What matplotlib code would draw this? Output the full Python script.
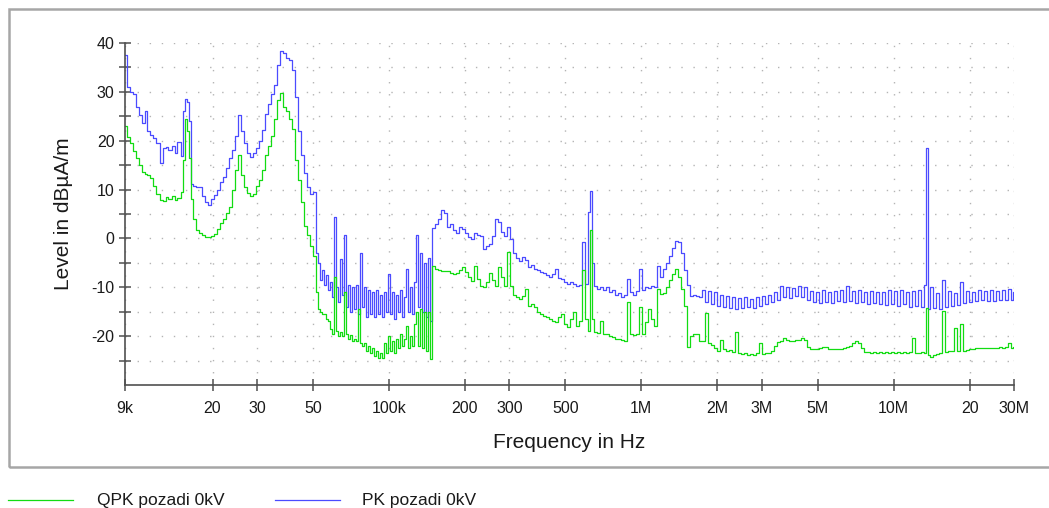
import numpy as np
import matplotlib
matplotlib.use("Agg")
import matplotlib.pyplot as plt
from matplotlib.lines import Line2D
from matplotlib.patches import Rectangle
from matplotlib.ticker import FixedLocator, NullLocator

plt.rcParams['font.family'] = ['Liberation Sans', 'DejaVu Sans']
plt.rcParams['axes.unicode_minus'] = False

# sweep frequencies in kHz (shared by both detectors)
freq_khz = [
    # 9 kHz - 52 kHz
    9.0, 9.25, 9.51, 9.77, 10.04, 10.32, 10.61, 10.90, 11.20, 11.51,
    11.83, 12.16, 12.50, 12.85, 13.20, 13.57, 13.95, 14.33, 14.73, 15.14,
    15.42, 15.70, 16.00, 16.29, 16.59, 16.90, 17.37, 17.85, 18.34, 18.85,
    19.37, 19.91, 20.46, 21.03, 21.61, 22.21, 22.83, 23.46, 24.11, 24.79,
    25.47, 26.18, 26.90, 27.65, 28.42, 29.21, 30.02, 30.85, 31.71, 32.59,
    33.50, 34.43, 35.38, 36.37, 37.38, 38.41, 39.48, 40.57, 41.70, 42.86,
    44.05, 45.25, 46.51, 47.80, 49.13, 50.49, 51.89,
    # 52 kHz - 150 kHz
    52.85, 53.82, 54.81, 55.82, 56.85, 57.90, 58.96, 60.05, 61.15, 62.28,
    63.43, 64.59, 65.78, 66.99, 68.22, 69.48, 70.76, 72.06, 73.39, 74.74,
    76.12, 77.52, 78.95, 80.40, 81.88, 83.39, 84.93, 86.49, 88.09, 89.71,
    91.36, 93.05, 94.76, 96.51, 98.29, 100.1, 101.9, 103.8, 105.7, 107.7,
    109.7, 111.7, 113.8, 115.8, 118.0, 120.2, 122.4, 124.6, 126.9, 129.3,
    131.6, 134.1, 136.5, 139.0, 141.6, 144.2, 146.9,
    # 150 kHz - 1.7 MHz
    150.0, 154.2, 158.4, 162.8, 167.4, 172.0, 176.8, 181.7, 186.7, 191.9,
    197.2, 202.7, 208.3, 214.1, 220.0, 226.1, 232.4, 238.8, 245.5, 252.3,
    259.3, 266.5, 273.9, 281.5, 289.3, 297.3, 305.5, 314.0, 322.7, 331.7,
    340.9, 350.3, 360.0, 370.0, 380.3, 390.8, 401.7, 412.8, 424.3, 436.0,
    448.1, 460.6, 473.3, 486.5, 500.0, 513.9, 528.1, 542.7, 557.8, 573.3,
    589.2, 605.5, 622.3, 633.8, 645.4, 657.3, 675.6, 694.3, 713.6, 733.4,
    753.8, 774.7, 796.2, 818.3, 841.0, 864.4, 888.4, 913.0, 938.4, 964.4,
    991.2, 1018.7, 1047.0, 1076.1, 1106.0, 1136.7, 1168.2, 1200.7, 1234.0, 1268.3,
    1303.5, 1339.7, 1376.9, 1415.1, 1454.4, 1494.8, 1536.3, 1579.0, 1622.8, 1667.9,
    1714.2,
    # 1.7 MHz - 30 MHz
    1761.8, 1810.7, 1861.0, 1912.7, 1965.8, 2020.4, 2076.5, 2134.1, 2193.3, 2254.2,
    2316.8, 2381.1, 2447.2, 2515.1, 2584.9, 2656.6, 2730.3, 2806.1, 2884.0, 2964.0,
    3046.3, 3130.8, 3217.7, 3307.0, 3398.8, 3493.1, 3590.1, 3689.7, 3792.1, 3897.4,
    4005.5, 4116.7, 4231.0, 4348.4, 4469.1, 4593.1, 4720.6, 4851.6, 4986.2, 5124.6,
    5266.8, 5413.0, 5563.2, 5717.6, 5876.3, 6039.4, 6207.0, 6379.3, 6556.3, 6738.3,
    6925.3, 7117.5, 7315.0, 7518.0, 7726.7, 7941.1, 8161.5, 8388.0, 8620.8, 8860.1,
    9106.0, 9358.7, 9618.4, 9885.3, 10159.7, 10441.6, 10731.4, 11029.2, 11335.3, 11649.9,
    11973.2, 12305.5, 12647.0, 12998.0, 13358.7, 13560.0, 13729.4, 14110.4, 14502.0, 14904.5,
    15318.1, 15743.2, 16180.1, 16629.1, 17090.6, 17564.9, 18052.4, 18553.4, 19068.3, 19597.5,
    20141.3, 20700.3, 21274.7, 21865.1, 22471.9, 23095.5, 23736.4, 24395.2, 25072.2, 25768.0,
    26483.1, 27218.0, 27973.4, 28749.7, 29547.5, 30000.0,
]

# quasi-peak level, dBuA/m
qpk_level = [
    23.0, 20.8, 19.6, 17.8, 16.5, 15.0, 13.6, 13.2, 13.0, 12.4,
    10.8, 9.0, 7.9, 7.6, 8.4, 8.0, 8.6, 7.8, 8.3, 9.5,
    16.0, 24.5, 22.0, 16.5, 8.0, 4.0, 1.8, 1.2, 0.8, 0.2,
    0.3, 0.5, 0.9, 2.0, 3.2, 4.0, 5.2, 6.5, 10.0, 14.0,
    17.0, 13.0, 10.5, 9.2, 8.7, 9.0, 10.8, 12.0, 14.0, 17.0,
    19.0, 21.0, 24.5, 28.4, 29.8, 27.0, 26.0, 24.5, 22.5, 16.0,
    12.0, 7.5, 2.5, 0.8, -1.6, -3.5, -11.0,

    -14.5, -15.0, -15.5, -15.5, -16.5, -17.0, -18.6, -19.5, -7.8, -19.0,
    -20.0, -19.2, -20.0, -11.0, -19.5, -20.5, -19.8, -21.0, -20.5, -21.0,
    -14.5, -21.5, -22.0, -21.5, -23.0, -22.0, -23.5, -22.5, -24.0, -23.0,
    -24.5, -23.5, -24.5, -21.5, -23.5, -20.0, -23.0, -21.0, -23.5, -20.5,
    -22.5, -19.5, -22.0, -20.5, -18.0, -22.5, -20.0, -22.0, -17.5, -15.1,
    -22.0, -14.5, -22.5, -15.0, -23.0, -15.0, -24.7,

    -5.7, -6.3, -6.5, -6.7, -6.7, -6.7, -7.0, -7.3, -7.0, -6.5,
    -5.9, -6.8, -7.8, -8.8, -5.7, -8.4, -9.8, -10.0, -9.0, -7.0,
    -8.5, -9.8, -5.9, -7.8, -9.8, -2.7, -9.8, -11.5, -12.0, -12.4,
    -11.8, -10.4, -13.8, -13.5, -14.0, -15.1, -15.5, -15.9, -16.0, -16.5,
    -16.8, -17.2, -16.0, -15.5, -17.5, -18.2, -16.5, -15.1, -18.0, -17.0,
    -6.5, -16.5, -19.0, 1.8, -16.5, -19.2, -19.3, -17.0, -19.5, -19.6,
    -20.0, -20.2, -20.5, -20.6, -20.8, -21.0, -13.0, -19.6, -19.8, -19.6,
    -14.1, -19.6, -17.2, -14.5, -16.5, -17.9, -10.4, -11.4, -11.2, -10.0,
    -8.5, -7.2, -6.3, -7.8, -10.4, -13.8, -22.2, -20.0, -19.5, -19.6,
    -21.0,

    -21.0, -15.3, -21.5, -21.8, -22.5, -23.0, -20.8, -22.6, -23.0, -22.8,
    -23.2, -19.2, -23.5, -23.6, -23.4, -23.8, -23.6, -23.8, -23.5, -21.5,
    -23.6, -23.5, -23.4, -23.0, -22.0, -21.2, -21.0, -20.4, -20.8, -21.0,
    -21.0, -20.8, -20.7, -20.4, -20.8, -22.2, -22.6, -22.7, -22.6, -22.4,
    -22.2, -22.3, -22.6, -22.6, -22.6, -22.6, -22.6, -22.5, -22.3, -22.0,
    -21.5, -21.0, -21.5, -22.5, -23.2, -23.3, -23.4, -23.3, -23.4, -23.3,
    -23.4, -23.3, -23.4, -23.3, -23.4, -23.3, -23.4, -23.3, -23.4, -23.3,
    -20.4, -23.4, -23.4, -23.3, -23.5, -14.3, -23.8, -24.3, -23.8, -23.6,
    -23.4, -14.9, -23.2, -23.0, -23.0, -18.4, -23.0, -17.6, -23.0, -22.8,
    -22.7, -22.6, -22.5, -22.5, -22.5, -22.4, -22.4, -22.4, -22.5, -22.4,
    -22.3, -22.4, -22.3, -21.5, -22.4, -22.3,
]

# peak level, dBuA/m
pk_level = [
    37.5, 31.0, 30.0, 29.5, 27.0, 25.3, 23.7, 26.0, 22.0, 21.2,
    20.5, 19.6, 15.5, 18.5, 18.8, 18.2, 19.0, 17.5, 19.8, 16.8,
    26.0, 28.5, 28.0, 24.0, 11.2, 10.8, 10.5, 10.6, 8.6, 7.5,
    6.8, 8.0, 8.8, 10.0, 11.5, 12.5, 14.5, 16.5, 18.0, 21.0,
    25.2, 22.0, 19.5, 17.5, 16.7, 17.5, 18.5, 20.0, 22.2, 25.5,
    27.5, 29.5, 31.5, 35.5, 38.3, 38.0, 37.0, 36.5, 34.5, 29.0,
    22.0, 17.0, 13.4, 10.5, 9.0, 9.5, -3.0,

    -5.0, -8.5, -6.5, -9.5, -7.5, -10.5, -9.0, -12.0, 4.3, -10.0,
    -13.0, -4.3, -11.5, 0.8, -14.0, -9.5, -15.0, -10.0, -14.5, -9.5,
    -15.5, -2.9, -14.0, -10.0, -16.0, -10.5, -15.5, -11.0, -16.0, -10.5,
    -15.5, -11.5, -16.0, -11.0, -15.0, -7.3, -15.5, -11.0, -16.5, -11.5,
    -15.0, -10.5, -16.0, -12.0, -6.3, -15.0, -10.0, -15.5, -9.0, 0.8,
    -14.0, -3.0, -15.0, -5.0, -16.0, -4.0, -17.0,

    2.2, 3.0, 4.0, 5.9, 5.3, 2.4, 2.9, 1.8, 1.2, 2.4,
    2.0, 1.2, 0.3, -0.2, 1.2, 0.8, 0.4, -2.2, -1.6, -1.2,
    0.5, 3.9, 3.3, 1.4, 0.4, 2.4, -0.2, -2.9, -4.0, -4.7,
    -3.7, -4.5, -5.9, -5.5, -6.3, -6.5, -6.8, -7.0, -7.5, -7.8,
    -7.2, -6.3, -8.0, -8.4, -9.0, -9.4, -9.0, -9.4, -9.8, -9.5,
    -0.8, -9.4, 5.5, 9.7, -5.0, -9.8, -10.4, -10.0, -10.5, -10.0,
    -11.0, -10.5, -11.5, -11.2, -12.0, -11.5, -8.4, -11.0, -11.5, -10.8,
    -6.3, -10.5, -10.0, -10.2, -9.8, -10.0, -5.7, -7.8, -6.3, -5.0,
    -3.5, -2.0, -0.6, -0.8, -3.0, -6.5, -9.5, -11.8, -11.5, -11.8,
    -12.0,

    -10.5, -13.0, -10.8, -13.5, -11.0, -13.8, -11.5, -14.0, -11.8, -14.2,
    -12.0, -14.5, -12.2, -14.3, -12.0, -14.0, -12.3, -14.2, -12.0, -13.8,
    -11.8, -13.5, -11.5, -13.0, -11.0, -12.5, -9.8, -12.0, -10.0, -12.2,
    -10.2, -11.8, -9.8, -12.0, -10.0, -12.5, -10.8, -13.0, -11.0, -13.2,
    -10.5, -13.0, -11.0, -13.2, -10.8, -12.8, -10.5, -13.0, -9.8, -12.8,
    -10.8, -13.3, -10.5, -13.0, -11.0, -13.5, -10.8, -13.2, -11.0, -13.5,
    -11.0, -13.7, -10.5, -13.5, -10.8, -13.8, -10.5, -13.5, -11.0, -14.0,
    -10.8, -13.8, -10.5, -14.0, -9.5, 18.6, -14.5, -10.0, -14.2, -11.2,
    -14.5, -8.5, -14.0, -10.8, -13.8, -11.2, -13.6, -9.0, -13.2, -10.8,
    -13.0, -11.0, -12.8, -10.5, -12.7, -10.8, -12.9, -10.6, -12.8, -10.7,
    -12.6, -10.5, -12.7, -10.4, -12.5, -11.0,
]

tick_hz = [9e3, 20e3, 30e3, 50e3, 100e3, 200e3, 300e3, 500e3,
           1e6, 2e6, 3e6, 5e6, 10e6, 20e6, 30e6]
tick_labels = ["9k", "20", "30", "50", "100k", "200", "300", "500",
               "1M", "2M", "3M", "5M", "10M", "20", "30M"]

freq_hz = np.array(freq_khz) * 1e3

fig = plt.figure(figsize=(10.49, 5.08), dpi=100)
W, H = 1049.0, 508.0

# outer frame
fig.add_artist(Rectangle((9 / W, 1 - 467 / H), 1.05, (467 - 9) / H,
                         transform=fig.transFigure, fill=False,
                         ec="#a6a6a6", lw=1.8))

ax = fig.add_axes([125 / W, 1 - 385 / H, (1014 - 125) / W, (385 - 43) / H])

ax.plot(freq_hz, pk_level, color="#4b4bff", lw=0.9, drawstyle="steps-mid")
ax.plot(freq_hz, qpk_level, color="#12dc12", lw=0.9, drawstyle="steps-mid")

ax.set_xscale("log")
ax.set_xlim(9e3, 30e6)
ax.set_ylim(-30, 40)
ax.xaxis.set_major_locator(FixedLocator(tick_hz))
ax.xaxis.set_minor_locator(NullLocator())
ax.set_xticklabels(tick_labels)
ax.yaxis.set_major_locator(FixedLocator(range(-20, 41, 10)))
ax.yaxis.set_minor_locator(FixedLocator(range(-25, 40, 10)))

grid_kw = dict(color="#b4b4b4", lw=1.0, linestyle=(0, (1, 7.7)))
ax.grid(True, which="both", axis="y", **grid_kw)
ax.grid(True, which="major", axis="x", **grid_kw)
ax.set_axisbelow(True)

for side in ("top", "right"):
    ax.spines[side].set_visible(False)
for side in ("left", "bottom"):
    ax.spines[side].set_color("#505050")
    ax.spines[side].set_linewidth(1.2)

ax.tick_params(which="both", direction="inout", length=9, width=1.1,
               color="#505050", labelsize=11.5, labelcolor="#1a1a1a")
ax.tick_params(axis="x", pad=7)
ax.tick_params(axis="y", pad=3)

ax.set_xlabel("Frequency in Hz", fontsize=15, color="#1a1a1a", labelpad=12)
ax.set_ylabel("Level in dBµA/m", fontsize=15, color="#1a1a1a", labelpad=13)

# legend strip below the frame
ly = 1 - 500 / H
fig.add_artist(Line2D([8 / W, 73 / W], [ly, ly], color="#12dc12", lw=0.9))
fig.text(97 / W, ly, "QPK pozadi 0kV", fontsize=12.5, va="center",
         color="#1a1a1a")
fig.add_artist(Line2D([275 / W, 340 / W], [ly, ly], color="#4b4bff", lw=0.9))
fig.text(362 / W, ly, "PK pozadi 0kV", fontsize=12.5, va="center",
         color="#1a1a1a")

fig.savefig("out.png", dpi=100)
